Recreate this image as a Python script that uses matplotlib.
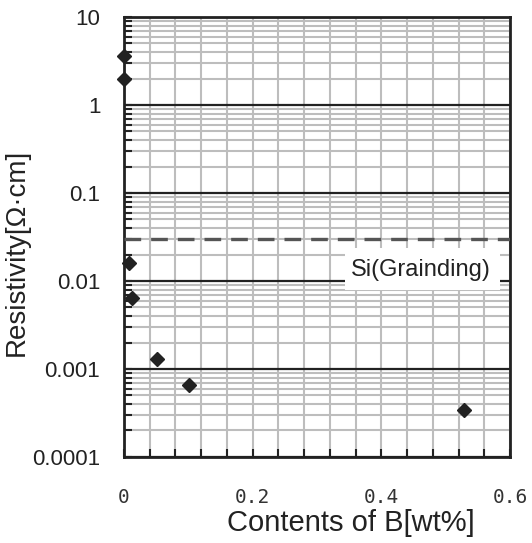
import matplotlib
matplotlib.use("Agg")
import matplotlib.pyplot as plt
from matplotlib.ticker import FixedLocator, LogLocator, NullFormatter, FixedFormatter
from matplotlib.patches import Rectangle
import numpy as np

# Boron content vs. resistivity
boron_wt = [0.0, 0.0, 0.008, 0.012, 0.051, 0.101, 0.529]
resistivity = [3.6, 2.0, 0.016, 0.0064, 0.0013, 0.00066, 0.00034]

# Reference level for ground Si
si_grinding = 0.03
si_label = "Si(Grainding)"

x_major = [0.0, 0.2, 0.4, 0.6]
x_major_labels = ["0", "0.2", "0.4", "0.6"]
y_major = [0.0001, 0.001, 0.01, 0.1, 1, 10]
y_major_labels = ["0.0001", "0.001", "0.01", "0.1", "1", "10"]

plt.rcParams['font.family'] = ['Liberation Sans', 'DejaVu Sans']

fig = plt.figure(figsize=(5.32, 5.43), dpi=100)
ax = fig.add_axes([0.233, 0.1584, 0.7256, 0.8103])

ax.set_xlim(0, 0.6)
ax.set_yscale('log')
ax.set_ylim(0.0001, 10)

# x grid every 0.04
x_minor = list(np.arange(0, 0.6001, 0.04))
ax.xaxis.set_major_locator(FixedLocator(x_major))
ax.xaxis.set_major_formatter(FixedFormatter(x_major_labels))
ax.xaxis.set_minor_locator(FixedLocator(x_minor))
ax.yaxis.set_major_locator(FixedLocator(y_major))
ax.yaxis.set_major_formatter(FixedFormatter(y_major_labels))
ax.yaxis.set_minor_locator(LogLocator(base=10, subs=np.arange(2, 10)))
ax.yaxis.set_minor_formatter(NullFormatter())

ax.grid(True, which='minor', axis='both', color='#bdbdbd', lw=1.5, zorder=0)
ax.grid(True, which='major', axis='x', color='#bdbdbd', lw=1.5, zorder=0)
ax.grid(True, which='major', axis='y', color='#222222', lw=1.6, zorder=1)
ax.set_axisbelow(True)

ax.tick_params(axis='both', which='both', direction='in', color='#222222',
               width=1.5, top=False, right=False)
ax.tick_params(axis='both', which='major', length=6)
ax.tick_params(axis='both', which='minor', length=6)
ax.tick_params(axis='y', which='major', labelsize=16, pad=17, labelcolor='#222222')
ax.tick_params(axis='x', which='major', labelsize=14, pad=22, labelcolor='#333333')
for lbl in ax.get_xticklabels():
    lbl.set_family('DejaVu Sans Mono')

for sp in ax.spines.values():
    sp.set_linewidth(2)
    sp.set_color('#222222')

ax.axhline(si_grinding, color='#555555', lw=2.4, dashes=(5, 3), zorder=3)

ax.add_patch(Rectangle((0.5725, 0.3795), 0.4015, 0.0955, transform=ax.transAxes,
                       facecolor='white', edgecolor='none', zorder=2))
ax.text(0.7694, 0.425, si_label, transform=ax.transAxes, ha='center', va='center',
        fontsize=17, color='#222222', zorder=4)

ax.plot(boron_wt, resistivity, linestyle='none', marker='D', markersize=6.8,
        color='#222222', clip_on=False, zorder=5)

ax.set_xlabel("Contents of B[wt%]", fontsize=21, color='#222222')
ax.set_ylabel("Resistivity[Ω·cm]", fontsize=20, color='#222222')
ax.xaxis.set_label_coords(0.588, -0.118)
ax.yaxis.set_label_coords(-0.245, 0.466)

fig.savefig("out.png", dpi=100)
